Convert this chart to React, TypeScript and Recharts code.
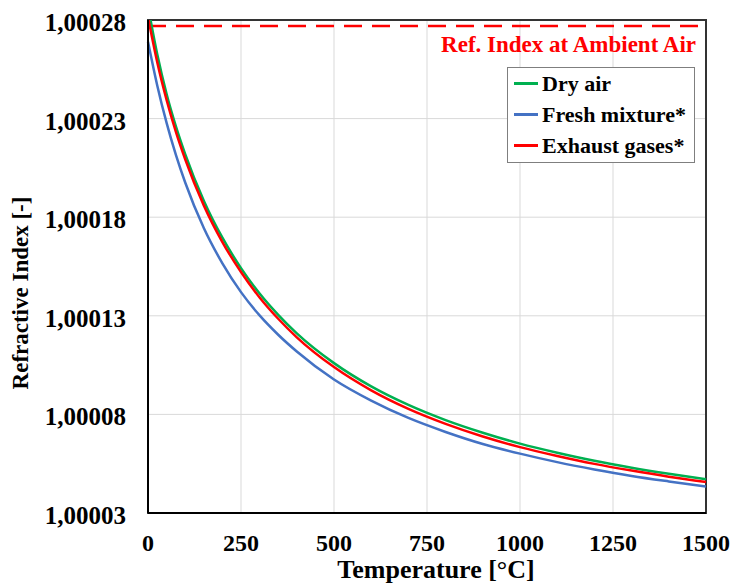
import React from 'react';
import {
  LineChart,
  Line,
  XAxis,
  YAxis,
  CartesianGrid,
  ReferenceLine,
  ReferenceArea,
  Legend,
} from 'recharts';

const temperatures = [0, 25, 50, 75, 100, 150, 200, 250, 300, 350, 400, 500, 600, 700, 800, 900, 1000, 1100, 1200, 1300, 1400, 1500];

const dryAir = [
  1.000287, 1.0002625, 1.0002425, 1.0002261, 1.000212, 1.0001884, 1.0001696, 1.0001542, 1.0001413, 1.0001305, 1.0001211,
  1.000106, 1.0000942, 1.0000848, 1.0000771, 1.0000707, 1.0000652, 1.0000606, 1.0000565, 1.000053, 1.0000499, 1.0000471,
];

const freshMixture = [
  1.000269, 1.0002467, 1.0002278, 1.0002116, 1.0001976, 1.0001745, 1.0001566, 1.000142, 1.0001302, 1.0001204, 1.0001119,
  1.0000977, 1.000087, 1.0000782, 1.0000711, 1.000065, 1.0000601, 1.0000558, 1.0000521, 1.0000488, 1.000046, 1.0000434,
];

const exhaustGases = [
  1.0002815, 1.0002585, 1.0002395, 1.0002233, 1.0002094, 1.000186, 1.0001674, 1.0001522, 1.0001393, 1.0001285, 1.0001191,
  1.000104, 1.0000922, 1.0000828, 1.0000752, 1.0000688, 1.0000634, 1.0000589, 1.0000549, 1.0000515, 1.0000484, 1.0000457,
];

const ambientAir = 1.000277;

const xTicks = [0, 250, 500, 750, 1000, 1250, 1500];
const yTicks = [1.00003, 1.00008, 1.00013, 1.00018, 1.00023, 1.00028];

const seriesNames = ['Dry air', 'Fresh mixture*', 'Exhaust gases*'];
const seriesKeys = ['dry', 'fresh', 'exhaust'];
const seriesColors = ['#00b050', '#4472c4', '#ff0000'];

const data = temperatures.map((t, i) => ({
  t,
  dry: dryAir[i],
  fresh: freshMixture[i],
  exhaust: exhaustGases[i],
}));

const FONT = '"Liberation Serif", "Times New Roman", serif';

const fmtY = (v: number) => v.toFixed(5).replace('.', ',');

const YTick = (props: any) => {
  const { x, y, payload } = props;
  return (
    <text x={x} y={y + 11} textAnchor="end" fontFamily={FONT} fontWeight="bold" fontSize={25} fill="#000">
      {fmtY(payload.value)}
    </text>
  );
};

const XTick = (props: any) => {
  const { x, y, payload } = props;
  return (
    <text x={x} y={y + 38} textAnchor="middle" fontFamily={FONT} fontWeight="bold" fontSize={24} fill="#000">
      {payload.value}
    </text>
  );
};

const XTitle = () => (
  <text x={436} y={578} textAnchor="middle" fontFamily={FONT} fontWeight="bold" fontSize={26} fill="#000">
    Temperature [°C]
  </text>
);

const YTitle = () => (
  <text
    x={0}
    y={0}
    transform="translate(28,293) rotate(-90)"
    textAnchor="middle"
    fontFamily={FONT}
    fontWeight="bold"
    fontSize={23}
    fill="#000"
  >
    Refractive Index [-]
  </text>
);

const RefLabel = (props: any) => {
  const vb = props.viewBox || {};
  return (
    <text
      x={vb.x + vb.width - 10}
      y={vb.y + 19}
      textAnchor="end"
      dominantBaseline="central"
      fontFamily={FONT}
      fontWeight="bold"
      fontSize={23}
      fill="#ff0000"
    >
      Ref. Index at Ambient Air
    </text>
  );
};

const LegendBox = () => (
  <div
    style={{
      width: 188,
      height: 96,
      boxSizing: 'border-box',
      border: '1.5px solid #7f7f7f',
      background: '#fff',
      fontFamily: FONT,
      fontWeight: 'bold',
      fontSize: 22,
      color: '#000',
    }}
  >
    {seriesNames.map((name, i) => (
      <div key={name} style={{ height: 31, display: 'flex', alignItems: 'center', whiteSpace: 'nowrap' }}>
        <div style={{ width: 24, height: 3, background: seriesColors[i], marginLeft: 6, marginRight: 4 }} />
        <span>{name}</span>
      </div>
    ))}
  </div>
);

export default function App() {
  return (
    <div>
      <style>{`body{margin:0;}`}</style>
      <LineChart width={732} height={586} data={data} margin={{ top: 20, right: 26, left: 0, bottom: 0 }}>
        <CartesianGrid stroke="#d9d9d9" strokeWidth={1} />
        <XAxis
          dataKey="t"
          type="number"
          domain={[0, 1500]}
          ticks={xTicks}
          height={73}
          tickSize={0}
          tickMargin={0}
          tickLine={false}
          axisLine={{ stroke: '#000', strokeWidth: 2 }}
          tick={<XTick />}
          label={<XTitle />}
        />
        <YAxis
          type="number"
          domain={[1.00003, 1.00028]}
          allowDataOverflow
          ticks={yTicks}
          width={148}
          tickSize={0}
          tickMargin={22}
          tickLine={false}
          axisLine={{ stroke: '#000', strokeWidth: 2 }}
          tick={<YTick />}
          label={<YTitle />}
        />
        <ReferenceArea x1={0} x2={1500} y1={1.00003} y2={1.00028} fill="none" stroke="#333" strokeWidth={2} />
        <ReferenceLine
          y={ambientAir}
          stroke="#ff0000"
          strokeWidth={2.5}
          strokeDasharray="18 10"
          label={<RefLabel />}
        />
        {seriesKeys.map((k, i) => (
          <Line
            key={k}
            type="monotone"
            dataKey={k}
            name={seriesNames[i]}
            stroke={seriesColors[i]}
            strokeWidth={2.5}
            dot={false}
            isAnimationActive={false}
          />
        ))}
        <Legend
          verticalAlign="middle"
          layout="horizontal"
          wrapperStyle={{ left: 507, top: 67, width: 188, height: 96 }}
          content={<LegendBox />}
        />
      </LineChart>
    </div>
  );
}
